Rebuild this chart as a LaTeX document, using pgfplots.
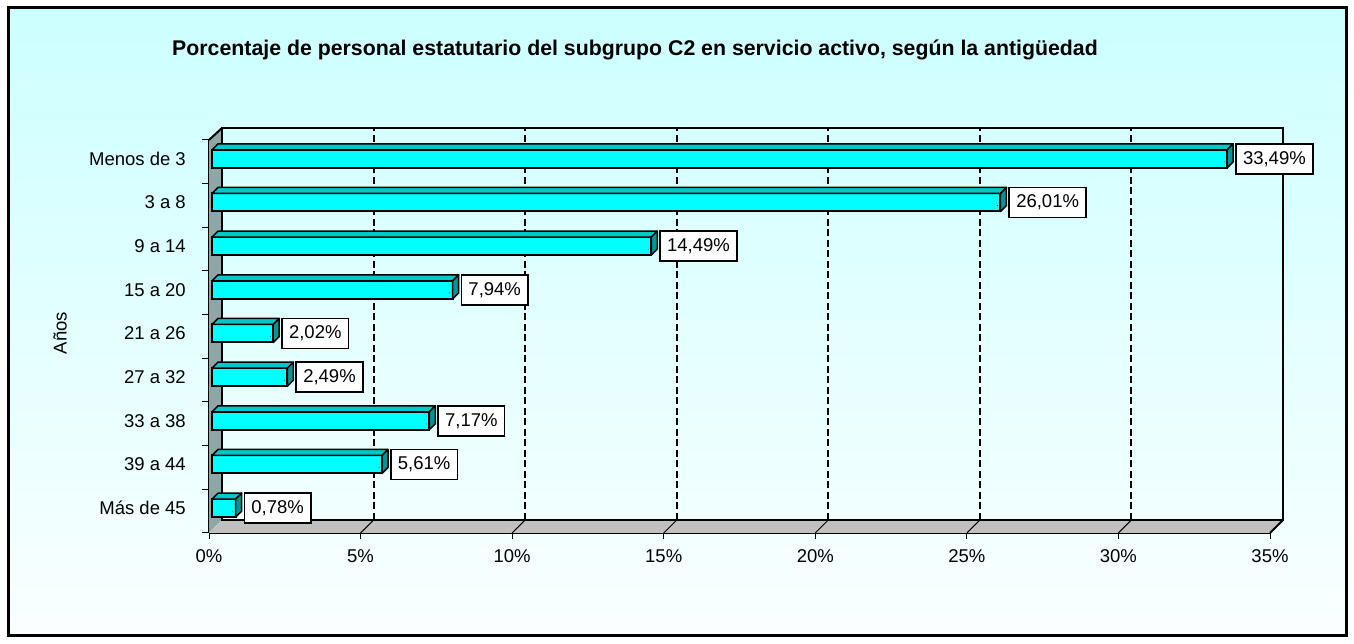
\documentclass[border=0pt]{standalone}
\usepackage{fontspec}
\setmainfont{Liberation Sans}
\usepackage{pgfplots}
\usepackage{pgfplotstable}
\pgfplotsset{compat=1.18}
\definecolor{bgtop}{RGB}{204,255,255}
\definecolor{bgbot}{RGB}{250,255,255}
\definecolor{wallside}{RGB}{143,166,166}
\definecolor{floorgray}{RGB}{192,192,192}
\definecolor{barfront}{RGB}{0,255,255}
\definecolor{bartop}{RGB}{0,200,200}
\definecolor{barside}{RGB}{0,150,150}
\pgfplotstableread{
pos val
8 33.49
7 26.01
6 14.49
5 7.94
4 2.02
3 2.49
2 7.17
1 5.61
0 0.78
}\datatable
\begin{document}
\begin{tikzpicture}[font=\fontsize{18.5}{22}\selectfont]
% canvas and frame
\path (0pt,0pt) rectangle (1354pt,644pt);
\shade[top color=bgtop, bottom color=bgbot] (8pt,8pt) rectangle (1346pt,636pt);
\draw[line width=3pt] (8pt,8pt) rectangle (1346pt,636pt);
\node[font=\fontsize{21.3}{25}\selectfont\bfseries] at (635pt,594pt) {Porcentaje de personal estatutario del subgrupo C2 en servicio activo, según la antigüedad};
\node[rotate=90] at (60pt,311pt) {Años};
\begin{axis}[
  at={(209pt,111pt)}, anchor=south west,
  x=30.314pt, y=43.667pt,
  xmin=0, xmax=35, ymin=-0.5, ymax=8.5,
  clip=false,
  axis x line*=bottom, axis y line*=left,
  axis line style={line width=2pt, -},
  /pgf/number format/assume math mode=true,
  xtick={0,5,...,35},
  xticklabel={\pgfmathprintnumber{\tick}\%},
  tick align=outside,
  major tick length=6pt,
  xtick style={line width=1pt, black},
  xticklabel style={inner sep=0pt, yshift=-10pt},
  ytick={0,...,8},
  yticklabels={Más de 45, 39 a 44, 33 a 38, 27 a 32, 21 a 26, 15 a 20, 9 a 14, 3 a 8, Menos de 3},
  ytick style={draw=none},
  yticklabel style={inner sep=0pt, xshift=-17pt, yshift=3pt},
]
% left wall
\fill[wallside] (axis cs:0,-0.5) -- ([xshift=13pt,yshift=13pt]axis cs:0,-0.5) -- ([xshift=13pt,yshift=12pt]axis cs:0,8.5) -- (axis cs:0,8.5) -- cycle;
% floor
\fill[floorgray] (axis cs:0,-0.5) -- ([xshift=13pt,yshift=13pt]axis cs:0,-0.5) -- ([xshift=13pt,yshift=13pt]axis cs:35,-0.5) -- (axis cs:35,-0.5) -- cycle;
% grid lines
\pgfplotsinvokeforeach{5,10,...,30}{
  \draw[line width=2pt, dash pattern=on 7pt off 3.5pt] ([xshift=13pt,yshift=13pt]axis cs:#1,-0.5) -- ([xshift=13pt,yshift=12pt]axis cs:#1,8.5);
  \draw[line width=1pt] (axis cs:#1,-0.5) -- ([xshift=13pt,yshift=13pt]axis cs:#1,-0.5);
}
% back wall outline and edges
\draw[line width=2pt, line join=miter] ([xshift=13pt,yshift=13pt]axis cs:0,-0.5) rectangle ([xshift=13pt,yshift=12pt]axis cs:35,8.5);
\draw[line width=2pt] (axis cs:0,8.5) -- ([xshift=13pt,yshift=12pt]axis cs:0,8.5);
\draw[line width=2pt] (axis cs:35,-0.5) -- ([xshift=13pt,yshift=13pt]axis cs:35,-0.5);
\draw[line width=2pt] ([xshift=13pt,yshift=13pt]axis cs:0,-0.5) -- ([xshift=13pt,yshift=12pt]axis cs:0,8.5);
% boundary ticks on the left axis
\pgfplotsinvokeforeach{-0.5,0.5,...,8.5}{
  \draw[line width=1pt] (axis cs:0,#1) -- ++(-7pt,0pt);
}
% front faces of bars
\addplot[xbar, bar width=18pt, bar shift=3pt, xshift=3pt, fill=barfront, draw=black, line width=2pt]
  table[x=val, y=pos] {\datatable};
% top and side faces
\addplot[scatter, only marks, mark=*, mark size=0.1pt,
  point meta=x,
  visualization depends on={\thisrow{val} \as \barval},
  scatter/@pre marker code/.code={%
    \pgfmathsetlengthmacro\barlen{\barval*30.314}%
    \filldraw[fill=bartop, draw=black, line width=1.5pt, line join=round] (3pt-\barlen,12pt) -- (3pt,12pt) -- (9pt,18pt) -- (9pt-\barlen,18pt) -- cycle;
    \filldraw[fill=barside, draw=black, line width=1.5pt, line join=round] (3pt,-6pt) -- (3pt,12pt) -- (9pt,18pt) -- (9pt,0pt) -- cycle;
    \begin{scope}[draw=none, fill=none]
  },
  scatter/@post marker code/.code={\end{scope}},
]
  table[x=val, y=pos] {\datatable};
% value labels
\addplot[only marks, mark=none,
  point meta=x,
  nodes near coords={\pgfmathprintnumber[fixed, fixed zerofill, precision=2, use comma]{\pgfplotspointmeta}\%},
  nodes near coords style={anchor=west, xshift=11pt, yshift=3pt, draw=black, fill=white, line width=1.6pt, inner xsep=7pt, minimum height=30pt, text=black},
]
  table[x=val, y=pos] {\datatable};
\end{axis}
\end{tikzpicture}
\end{document}
